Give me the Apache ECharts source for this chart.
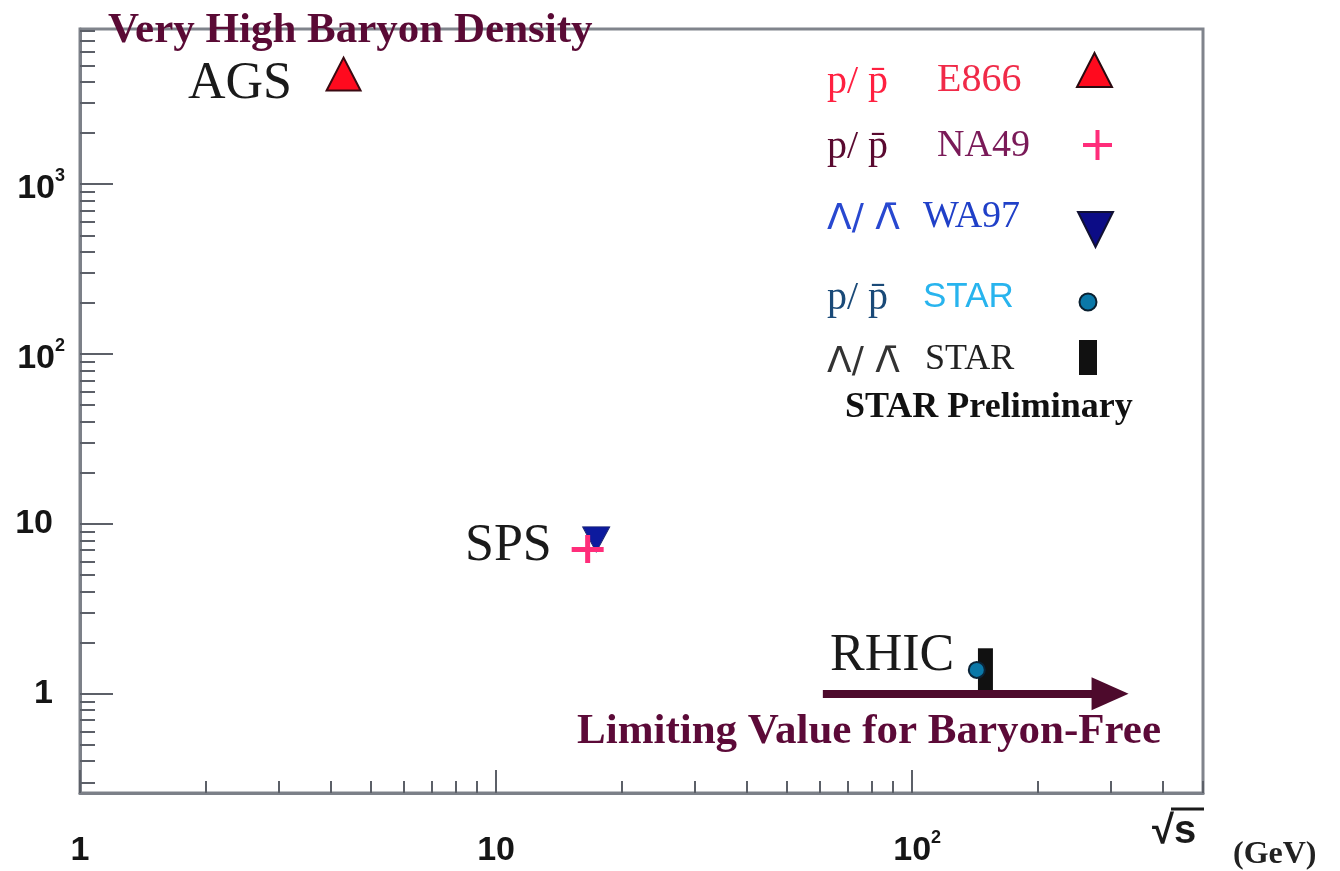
<!DOCTYPE html>
<html><head><meta charset="utf-8">
<script src="https://cdn.jsdelivr.net/npm/echarts@6/dist/echarts.min.js"></script>
<style>html,body{margin:0;padding:0;background:#fff}#c{width:1340px;height:871px}</style>
</head><body><div id="c"></div>
<script>
// ---- axis ticks ----
const xMajorTicks = [1, 10, 100];
const xMinorTicks = [2, 3, 4, 5, 6, 7, 8, 9, 20, 30, 40, 50, 60, 70, 80, 90, 200, 300, 400, 500];
const yMajorTicks = [1, 10, 100, 1000];
const yMinorTicks = [0.3, 0.4, 0.5, 0.6, 0.7, 0.8, 0.9, 2, 3, 4, 5, 6, 7, 8, 9,
  20, 30, 40, 50, 60, 70, 80, 90, 200, 300, 400, 500, 600, 700, 800, 900,
  2000, 3000, 4000, 5000, 6000, 7000, 8000];
const xRange = [1, 500];
const yRange = [0.26, 8200];

// ---- data (sqrt(s) in GeV, ratio) ----
const e866Sqrt = [4.3];   const e866Ratio = [4450];
const na49Sqrt = [16.6];  const na49Ratio = [7.1];
const wa97Sqrt = [17.4];  const wa97Ratio = [8.1];
const starPSqrt = [143];  const starPRatio = [1.38];
const starLSqrt = [150];  const starLLow = [1.05]; const starLHigh = [1.85];

// arrow: limiting value for baryon-free
const arrowLevel = 1;
const arrowFrom = 61;
const arrowTo = 299;

const zip = (a, b) => a.map((v, i) => [v, b[i]]);

const SANS = 'Liberation Sans';
const SERIF = 'Liberation Serif';

function expOf(v) { return Math.round(Math.log10(v)); }
function xFmt(v) { const e = expOf(v); return e >= 2 ? '{bs|10}{s|' + e + '}' : '{bx|' + Math.round(v) + '}'; }
function yFmt(v) { const e = expOf(v); return e >= 2 ? '{bs|10}{s|' + e + '}' : '{by|' + Math.round(v) + '}'; }

const baseRich = { fontFamily: SANS, fontWeight: 'bold', fontSize: 34, color: '#151515', lineHeight: 34 };
const supRich = { fontFamily: SANS, fontWeight: 'bold', fontSize: 18, color: '#151515', lineHeight: 18, verticalAlign: 'top' };

const tickStyle = { color: '#5c6068', width: 2 };

function axisPair(kind, major, minor, range, majorLen, minorLen, labelCfg) {
  const common = { type: 'log', logBase: 10, min: range[0], max: range[1], splitLine: { show: false }, minorTick: { show: false } };
  const pos = kind === 'x' ? 'bottom' : 'left';
  return [
    Object.assign({}, common, {
      position: pos,
      axisLine: { show: true, onZero: false, lineStyle: { color: '#7c8088', width: 3 } },
      axisTick: { show: true, inside: true, length: majorLen, lineStyle: tickStyle, customValues: major },
      axisLabel: labelCfg
    }),
    Object.assign({}, common, {
      position: pos,
      axisLine: { show: false, onZero: false },
      axisTick: { show: true, inside: true, length: minorLen, lineStyle: tickStyle, customValues: minor },
      axisLabel: { show: false }
    })
  ];
}

const crossPath = 'path://M0,12 L32,12 L32,17 L0,17 Z M13.5,0 L18.5,0 L18.5,28 L13.5,28 Z';

function txt(text, x, y, font, fill, align) {
  return { type: 'text', x: x, y: y, silent: true, z: 50,
    style: { text: text, font: font, fill: fill, align: align || 'left', textAlign: align || 'left', verticalAlign: 'middle', textVerticalAlign: 'middle' } };
}

const chart = echarts.init(document.getElementById('c'), null, { renderer: 'canvas' });
chart.setOption({
  animation: false,
  backgroundColor: '#ffffff',
  grid: { left: 80, right: 137, top: 29, bottom: 78, show: true, borderColor: '#80848c', borderWidth: 3 },
  xAxis: axisPair('x', xMajorTicks, xMinorTicks, xRange, 23, 12, {
    show: true, customValues: xMajorTicks, margin: 36, formatter: xFmt,
    rich: {
      bx: Object.assign({}, baseRich, { padding: [9, 0, 0, 0] }),
      bs: Object.assign({}, baseRich, { padding: [9, 0, 0, 10] }),
      s: supRich
    }
  }),
  yAxis: axisPair('y', yMajorTicks, yMinorTicks, yRange, 33, 15, {
    show: true, customValues: yMajorTicks, margin: 15, formatter: yFmt,
    rich: {
      by: Object.assign({}, baseRich, { padding: [0, 12, 0, 0] }),
      bs: Object.assign({}, baseRich, { padding: [9, 0, 0, 0] }),
      s: supRich
    }
  }),
  series: [
    { name: 'WA97', type: 'scatter', xAxisIndex: 0, yAxisIndex: 0, data: zip(wa97Sqrt, wa97Ratio),
      symbol: 'triangle', symbolRotate: 180, symbolSize: [27, 25],
      itemStyle: { color: '#0c1a9e', borderColor: '#1a2470', borderWidth: 1, opacity: 1 }, z: 3 },
    { name: 'NA49', type: 'scatter', xAxisIndex: 0, yAxisIndex: 0, data: zip(na49Sqrt, na49Ratio),
      symbol: crossPath, symbolSize: [32, 28],
      itemStyle: { color: '#ff2d7a', opacity: 1 }, z: 4 },
    { name: 'E866', type: 'scatter', xAxisIndex: 0, yAxisIndex: 0, data: zip(e866Sqrt, e866Ratio),
      symbol: 'triangle', symbolSize: [34, 33],
      itemStyle: { color: '#ff0a1e', borderColor: '#3a0a12', borderWidth: 2, opacity: 1 }, z: 3 },
    { name: 'STAR Lambda', type: 'custom', xAxisIndex: 0, yAxisIndex: 0,
      data: starLSqrt.map((v, i) => [v, starLLow[i], starLHigh[i]]),
      encode: { x: 0, y: [1, 2] },
      renderItem: function (params, api) {
        const top = api.coord([api.value(0), api.value(2)]);
        const bot = api.coord([api.value(0), api.value(1)]);
        return { type: 'rect', shape: { x: top[0] - 7.5, y: top[1], width: 15, height: bot[1] - top[1] }, style: { fill: '#111111' } };
      }, z: 3 },
    { name: 'STAR p', type: 'scatter', xAxisIndex: 0, yAxisIndex: 0, data: zip(starPSqrt, starPRatio),
      symbol: 'circle', symbolSize: 16,
      itemStyle: { color: '#0a78a8', borderColor: '#0b2438', borderWidth: 2, opacity: 1 }, z: 5,
      markLine: {
        silent: true, animation: false, symbol: ['none', 'triangle'], symbolSize: [33, 37],
        label: { show: false },
        lineStyle: { color: '#4d0a2c', width: 8, type: 'solid', opacity: 1 },
        itemStyle: { color: '#4d0a2c' },
        emphasis: { disabled: true },
        data: [[{ coord: [arrowFrom, arrowLevel] }, { coord: [arrowTo, arrowLevel] }]]
      } }
  ],
  graphic: [
    txt('Very High Baryon Density', 108, 31, 'bold 43px ' + SERIF, '#5a0a35'),
    txt('AGS', 188, 84, '52px ' + SERIF, '#1a1a1a'),
    txt('SPS', 465, 546, '52px ' + SERIF, '#1a1a1a'),
    txt('RHIC', 830, 656, '52px ' + SERIF, '#1a1a1a'),
    txt('Limiting Value for Baryon-Free', 577, 732, 'bold 43px ' + SERIF, '#5c0a38'),
    // legend
    txt('p/ p\u0304', 827, 82, '40px ' + SERIF, '#ff2040'),
    txt('E866', 937, 80, '40px ' + SERIF, '#f02a48'),
    txt('p/ p\u0304', 827, 147, '40px ' + SERIF, '#5a0a30'),
    txt('NA49', 937, 146, '38px ' + SERIF, '#7a1a58'),
    txt('\u039b/ \u039b\u0304', 827, 220, '36px DejaVu Sans', '#2848d0'),
    txt('WA97', 923, 217, '38px ' + SERIF, '#2040c8'),
    txt('p/ p\u0304', 827, 298, '40px ' + SERIF, '#1a4a78'),
    txt('STAR', 923, 297, '35px ' + SANS, '#28b4ee'),
    txt('\u039b/ \u039b\u0304', 827, 363, '36px DejaVu Sans', '#333333'),
    txt('STAR', 925, 360, '36px ' + SERIF, '#222222'),
    txt('STAR Preliminary', 845, 408, 'bold 36px ' + SERIF, '#111111'),
    { type: 'polygon', silent: true, z: 50, shape: { points: [[1077, 87], [1094.5, 53], [1112, 87]] }, style: { fill: '#ff0a1e', stroke: '#2a0a10', lineWidth: 2 } },
    { type: 'rect', silent: true, z: 50, shape: { x: 1083, y: 143, width: 29, height: 4 }, style: { fill: '#ff2d7a' } },
    { type: 'rect', silent: true, z: 50, shape: { x: 1095.5, y: 130, width: 4, height: 30 }, style: { fill: '#ff2d7a' } },
    { type: 'polygon', silent: true, z: 50, shape: { points: [[1078, 212], [1113, 212], [1095.5, 247]] }, style: { fill: '#0c0c86', stroke: '#111133', lineWidth: 2 } },
    { type: 'circle', silent: true, z: 50, shape: { cx: 1088, cy: 302, r: 8.5 }, style: { fill: '#0a78a8', stroke: '#0a2030', lineWidth: 2 } },
    { type: 'rect', silent: true, z: 50, shape: { x: 1079, y: 340, width: 18, height: 35 }, style: { fill: '#111111' } },
    // axis title
    txt('\u221as', 1152, 832, 'bold 40px ' + SANS, '#1a1a1a'),
    { type: 'line', silent: true, z: 50, shape: { x1: 1171, y1: 809, x2: 1204, y2: 809 }, style: { stroke: '#1a1a1a', lineWidth: 3 } },
    txt('(GeV)', 1233, 855, 'bold 32px ' + SERIF, '#222222')
  ]
});
</script>
</body></html>
